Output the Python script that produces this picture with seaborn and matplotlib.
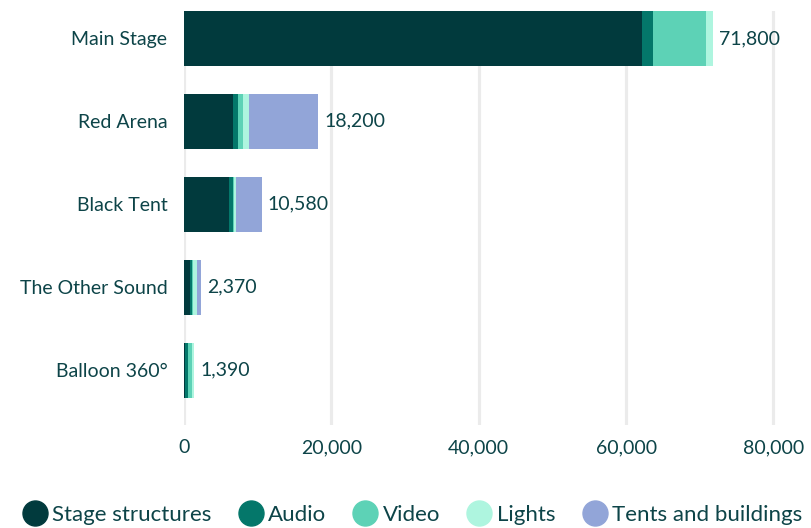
import matplotlib
matplotlib.use("Agg")
import matplotlib.pyplot as plt
from matplotlib.lines import Line2D
from matplotlib.ticker import FuncFormatter
import numpy as np
import pandas as pd
import seaborn as sns

# Venue costs by category
venues = ["Main Stage", "Red Arena", "Black Tent", "The Other Sound", "Balloon 360°"]
stage_structures = [62100, 6610, 6140, 820, 140]
audio = [1600, 660, 490, 320, 430]
video = [7080, 790, 210, 140, 480]
lights = [1020, 790, 270, 470, 340]
tents_and_buildings = [0, 9350, 3470, 620, 0]
totals = [71800, 18200, 10580, 2370, 1390]
x_ticks = [0, 20000, 40000, 60000, 80000]

series_names = ["Stage structures", "Audio", "Video", "Lights", "Tents and buildings"]
series_values = [stage_structures, audio, video, lights, tents_and_buildings]
colors = ["#013a3d", "#04776a", "#5dd2b6", "#aef5df", "#92a5d8"]
text_color = "#0d4448"

sns.set_theme(style="white")
plt.rcParams["font.family"] = ["Lato", "DejaVu Sans"]

df = pd.DataFrame({"venue": venues})
for name, vals in zip(series_names, series_values):
    df[name] = vals
cum = df[series_names].cumsum(axis=1)

fig = plt.figure(figsize=(8.12, 5.28), dpi=100)
ax = fig.add_axes([184 / 812, 103 / 528, (800 - 184) / 812, (425 - 11) / 528])

# Stacked bars: draw cumulative totals from the outermost segment inward
for name, color in reversed(list(zip(series_names, colors))):
    sns.barplot(x=cum[name], y=df["venue"], color=color, orient="h",
                width=0.66, ax=ax, saturation=1, linewidth=0)

for i, total in enumerate(totals):
    ax.text(cum.iloc[i, -1] + 800, i, f"{total:,}", va="center", ha="left",
            fontsize=14, color=text_color)

ax.set_xlim(0, 83600)
ax.set_ylim(4.66, -0.33)
ax.set_xticks(x_ticks)
ax.xaxis.set_major_formatter(FuncFormatter(lambda v, p: f"{int(v):,}"))
ax.set_xlabel("")
ax.set_ylabel("")
ax.grid(axis="x", color="#ebebeb", linewidth=2.3)
ax.set_axisbelow(True)
for s in ax.spines.values():
    s.set_visible(False)
ax.tick_params(axis="x", length=0, pad=10, labelsize=14, labelcolor=text_color)
ax.tick_params(axis="y", length=0, pad=12, labelsize=14, labelcolor=text_color)

handles = [Line2D([0], [0], marker="o", linestyle="", markersize=18,
                  markerfacecolor=c, markeredgecolor=c) for c in colors]
fig.legend(handles, series_names, loc="center", bbox_to_anchor=(0.508, 13 / 528),
           ncol=5, frameon=False, fontsize=16, labelcolor=text_color,
           handletextpad=0.25, columnspacing=1.2, handlelength=1.1,
           borderpad=0, borderaxespad=0)

fig.savefig("out.png", dpi=100)
